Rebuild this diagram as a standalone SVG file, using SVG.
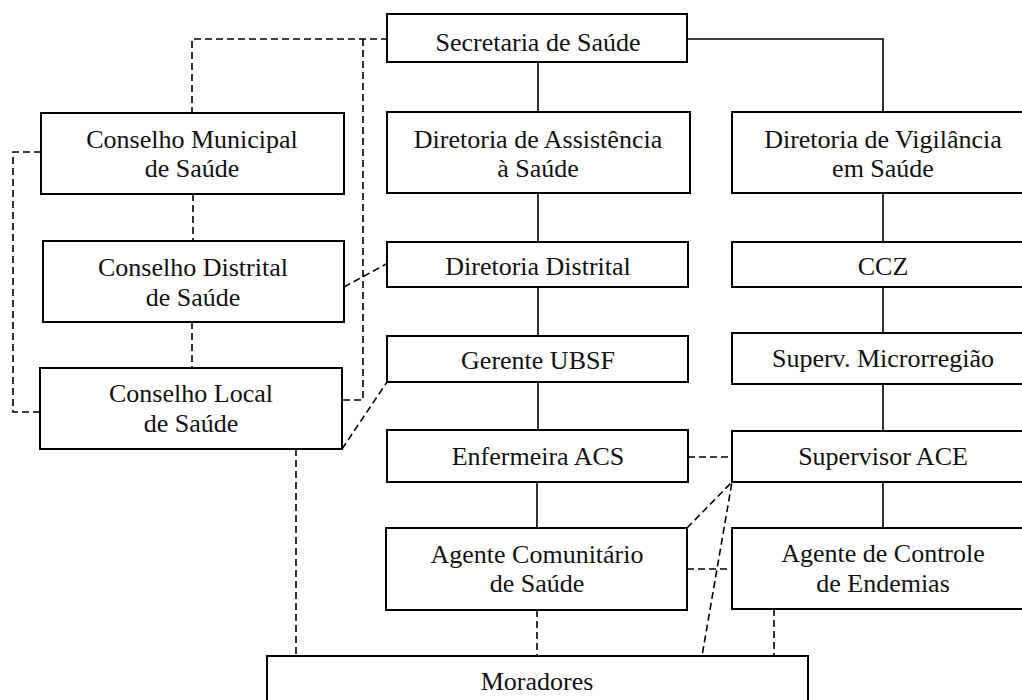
<svg xmlns="http://www.w3.org/2000/svg" width="1022" height="700" viewBox="0 0 1022 700">
<style>
rect{fill:#fff;stroke:#000;stroke-width:2}
text{font-size:26px;fill:#111;text-anchor:middle}
.s{fill:none;stroke:#000;stroke-width:1.6}
.d{fill:none;stroke:#000;stroke-width:1.6;stroke-dasharray:7 4}
</style>
<rect x="0" y="0" width="1022" height="700" style="stroke:none"/>
<g id="connectors">
<path class="s" d="M538 62V112M687 39H883V112M538 193V242M883 193V242M538 287V336M883 287V333M538 382V430M883 384V431M537 482V528M883 482V528"/>
<path class="d" d="M388 39H192V113M363 39V400H342M41 152H13V412H40M193 194V241M192 322V368M344 287L388 263M342 449L387 382M296 449V656M688 457H732M687 569H732M687 528L732 482L702 656M537 610V656M774 609V656"/>
</g>
<g font-family="Liberation Serif, Times New Roman, serif">
<g id="secretaria"><rect x="387" y="14" width="300" height="48"/><text x="538" y="51">Secretaria de Saúde</text></g>
<g id="dir-assistencia"><rect x="387" y="112" width="303" height="81"/><text x="538" y="148">Diretoria de Assistência</text><text x="538" y="177">à Saúde</text></g>
<g id="dir-vigilancia"><rect x="732" y="112" width="300" height="81"/><text x="883" y="148">Diretoria de Vigilância</text><text x="883" y="177">em Saúde</text></g>
<g id="cons-municipal"><rect x="41" y="113" width="303" height="81"/><text x="192" y="148">Conselho Municipal</text><text x="192" y="177">de Saúde</text></g>
<g id="cons-distrital"><rect x="43" y="241" width="301" height="81"/><text x="193" y="276">Conselho Distrital</text><text x="193" y="306">de Saúde</text></g>
<g id="cons-local"><rect x="40" y="368" width="302" height="81"/><text x="191" y="402">Conselho Local</text><text x="191" y="432">de Saúde</text></g>
<g id="dir-distrital"><rect x="387" y="242" width="301" height="45"/><text x="538" y="275">Diretoria Distrital</text></g>
<g id="ccz"><rect x="732" y="242" width="300" height="45"/><text x="883" y="275">CCZ</text></g>
<g id="gerente"><rect x="387" y="336" width="301" height="46"/><text x="538" y="369">Gerente UBSF</text></g>
<g id="superv-micro"><rect x="732" y="333" width="300" height="51"/><text x="883" y="367">Superv. Microrregião</text></g>
<g id="enfermeira"><rect x="387" y="430" width="301" height="52"/><text x="538" y="465">Enfermeira ACS</text></g>
<g id="supervisor-ace"><rect x="732" y="431" width="300" height="51"/><text x="883" y="465">Supervisor ACE</text></g>
<g id="acs"><rect x="386" y="528" width="301" height="82"/><text x="537" y="563">Agente Comunitário</text><text x="537" y="592">de Saúde</text></g>
<g id="ace"><rect x="732" y="528" width="300" height="81"/><text x="883" y="562">Agente de Controle</text><text x="883" y="592">de Endemias</text></g>
<g id="moradores"><rect x="267" y="656" width="541" height="60"/><text x="537" y="690">Moradores</text></g>
</g>
</svg>
